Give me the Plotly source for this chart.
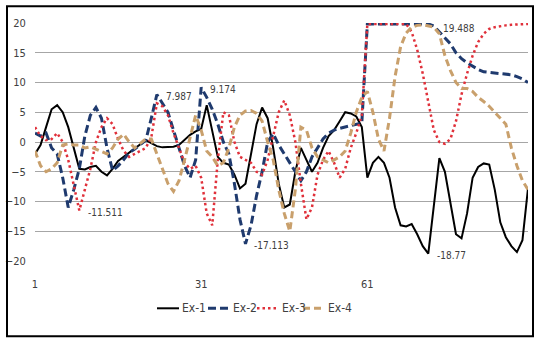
import plotly.graph_objects as go

x_idx = list(range(1, 91))
tick_vals = [1, 31, 61]
tick_text = ["1", "31", "61"]
y_ticks = [-20, -15, -10, -5, 0, 5, 10, 15, 20]

ex1 = [-2, -0.5, 2.5, 5.5, 6.2, 5, 2.5, -1, -4.5, -4.6,
       -4.2, -4, -5, -5.6, -4.5, -3.2, -2.5, -1.8, -1, -0.4,
       0.3, -0.2, -0.7, -0.9, -0.9, -0.8, -0.5, 0.3, 1.2, 1.8,
       2.2, 6.2, 2, -2.5, -3.5, -3.8, -5.5, -7.8, -7, -2,
       3, 5.8, 4, -1, -7, -11, -10.5, -5, -1, -3,
       -5, -3.5, -1, 1, 2, 3.5, 5, 4.8, 4.3, 2.5,
       -6, -3.5, -2.5, -3.5, -6, -11, -14, -14.2, -13.8, -15.5,
       -17.5, -18.77, -11, -2.7, -5, -10, -15.5, -16.2, -12, -6,
       -4.2, -3.6, -3.8, -8, -13.5, -16, -17.5, -18.5, -16.5, -7.8]

ex2 = [1.5, 1, 1.5, -1, -2, -6, -11, -8, -4.5, 1,
       4.5, 5.8, 4, -1, -4.8, -4, -3, -1.8, -1.2, -0.5,
       0.3, 4, 7.987, 6.5, 5, 2, -1, -4, -6, -3,
       9.174, 7.5, 5.5, 3, 0, -2, -7, -13, -17.113, -14,
       -9, -5, 0, 1.4, -0.5, -2, -3.5, -5, -6.5, -5,
       -2.5, -1, 0.5, 1.5, 2, 2.3, 2.5, 2.7, 3, 3.2,
       19.85, 19.85, 19.85, 19.85, 19.85, 19.85, 19.85, 19.85, 19.85, 19.85,
       19.85, 19.85, 19.488, 18.5, 17.5, 16.5, 15, 14, 13.3, 12.7,
       12.2, 11.8, 11.7, 11.6, 11.5, 11.4, 11.3, 11, 10.6, 10]

ex3 = [2.5, 1, 0.3, 0.5, 1.5, 0, -3, -7, -11.511, -8,
       -4.5, 0, 2.5, 4, 3, 0.5, -1.5, -2.5, -2, -1.5,
       -1, 0.8, 6.5, 6, 4.5, 1.5, -1, -3.5, -4.5, -4,
       -6, -12, -14, -3, 5, 4.5, 0, -2.5, -3, -3.5,
       -5, -5.5, -3, 1, 5, 7, 4.5, 0, -7, -13,
       -11, -5.5, -3, -1.5, -3.5, -6, -4.5, -1, 1.5, 4.5,
       19.85, 19.85, 19.85, 19.85, 19.85, 19.85, 19.85, 19.85, 18.5, 15.5,
       11.5, 6.5, 2, 0, -0.3, 0.5, 3.5, 8, 11.5, 14.5,
       16.8, 18.2, 19, 19.3, 19.5, 19.6, 19.7, 19.8, 19.8, 19.85]

ex4 = [-1.5, -4, -5, -4.5, -3.5, -0.5, -0.3, -0.5, -0.5, -1,
       -0.8, -1.2, -1.5, -2, -1, 0.5, 1.3, 0, -1, -0.3,
       0.5, 0.5, -2, -4.5, -7, -8.3, -6.5, -3, 1, 4.5,
       2, -1.5, -2.5, -4, -3.5, -1, 2.5, 4.5, 5.2, 5.3,
       4.8, 3.5, 0, -3, -8, -12, -15, -8, 2.5, 2,
       -1, -2.5, -3, -3.5, -3, -2.5, -1.5, 1.5, 5, 7.5,
       8.5, 5, 0.5, -1.5, 4, 11, 16, 18.3, 19.3, 19.6,
       19.7, 19.5, 19.3, 18.2, 14.5, 12, 10, 9, 9, 8.5,
       7.5, 6.8, 6, 5, 4, 3, -1, -4, -6.5, -8]

series_names = ["Ex-1", "Ex-2", "Ex-3", "Ex-4"]
series_vals = [ex1, ex2, ex3, ex4]
series_colors = ["#000000", "#1f3a6e", "#e0303a", "#c9a06c"]
series_dash = ["solid", "8px,4px", "2.5px,3px", "7px,4px"]
series_width = [2, 3, 2.5, 3]

# data labels: (series index, category index)
labels = [(1, 23), (1, 31), (2, 9), (1, 39), (1, 73), (0, 72)]

FONT = "Liberation Sans Narrow, Arial Narrow, DejaVu Sans Condensed, sans-serif"
TXT = "#404040"

L, R, T, B = 35, 528, 22.7, 260.7
W, H = R - L, B - T
def px2x(p):
    return (p - L) / W
def py2y(p):
    return (B - p) / H

fig = go.Figure()
for name, vals, col, dsh, w in zip(series_names, series_vals, series_colors, series_dash, series_width):
    fig.add_trace(go.Scatter(x=x_idx, y=vals, name=name, mode="lines", showlegend=False,
                             line=dict(color=col, width=w, dash=dsh)))

for si, ci in labels:
    v = series_vals[si][ci - 1]
    fig.add_annotation(x=ci, y=v, text=f"{v:g}", showarrow=False,
                       xanchor="left", yanchor="middle", xshift=7, yshift=-2,
                       font=dict(family=FONT, size=10, color=TXT))

# legend drawn beneath the plot (symbol start px for each entry)
leg_x = [157, 208, 257, 303]
leg_y = 308
for name, col, dsh, w, lx in zip(series_names, series_colors, series_dash, series_width, leg_x):
    fig.add_shape(type="line", xref="paper", yref="paper",
                  x0=px2x(lx), x1=px2x(lx + 22), y0=py2y(leg_y), y1=py2y(leg_y),
                  line=dict(color=col, width=w, dash=dsh))
    fig.add_annotation(xref="paper", yref="paper", x=px2x(lx + 23), y=py2y(leg_y),
                       text=name, showarrow=False, xanchor="left", yanchor="middle",
                       font=dict(family=FONT, size=12, color=TXT))

# outer frame
fig.add_shape(type="rect", xref="paper", yref="paper",
              x0=px2x(7), x1=px2x(533), y0=py2y(336), y1=py2y(6),
              line=dict(color="#000000", width=2), layer="above")

fig.update_layout(
    width=537, height=340,
    margin=dict(l=L, r=537 - R, t=T, b=340 - B, autoexpand=False),
    paper_bgcolor="white", plot_bgcolor="white",
    showlegend=False,
    font=dict(family=FONT, size=11, color=TXT),
)
fig.update_xaxes(range=[1, 90], tickvals=tick_vals, ticktext=tick_text, showgrid=False,
                 zeroline=False, showline=False, ticks="outside", ticklen=13, automargin=False,
                 tickcolor="rgba(0,0,0,0)", tickfont=dict(family=FONT, size=11, color=TXT))
fig.update_yaxes(range=[-20, 20], tickvals=y_ticks, showgrid=True, gridcolor="#a6a6a6",
                 gridwidth=1, zeroline=False, showline=False, ticks="outside", ticklen=6,
                 automargin=False,
                 tickcolor="rgba(0,0,0,0)", tickfont=dict(family=FONT, size=11, color=TXT))

fig.write_html("out.html", config={"displayModeBar": False},
               post_script="document.body.style.margin='0';document.body.style.overflow='hidden';")
